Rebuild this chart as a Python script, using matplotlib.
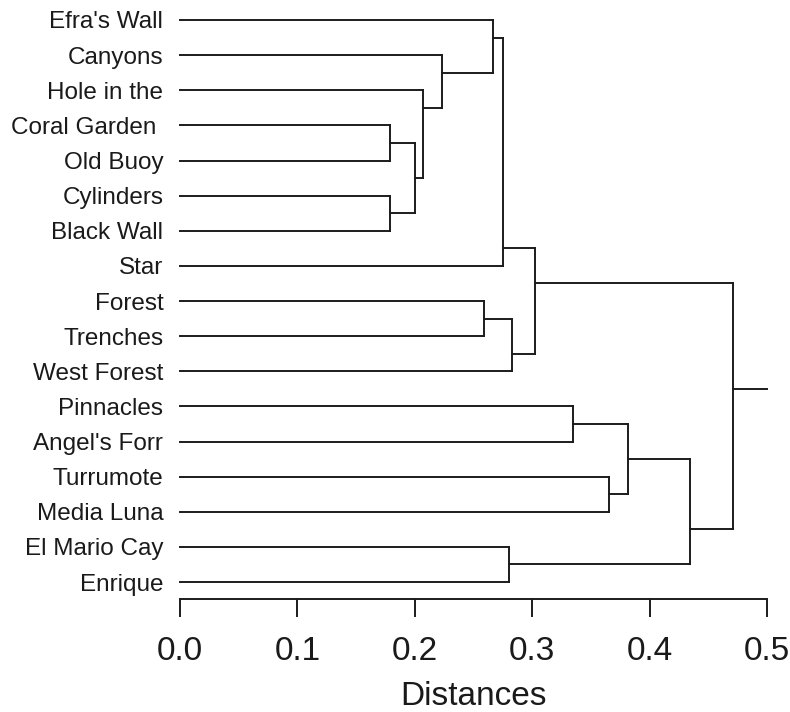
import matplotlib
matplotlib.use("Agg")
import matplotlib.pyplot as plt

plt.rcParams['font.family'] = ['Liberation Sans', 'DejaVu Sans']

# leaf order, top to bottom
sites = [
    "Efra's Wall", "Canyons", "Hole in the", "Coral Garden ", "Old Buoy",
    "Cylinders", "Black Wall", "Star", "Forest", "Trenches", "West Forest",
    "Pinnacles", "Angel's Forr", "Turrumote", "Media Luna", "El Mario Cay",
    "Enrique",
]

# merges: (first child, second child, distance); leaves are 0..16,
# each merge makes a new node numbered 17, 18, ...
merge_a = [3, 5, 17, 2, 1, 8, 0, 23, 15, 22, 24, 11, 13, 28, 30, 27]
merge_b = [4, 6, 18, 19, 20, 9, 21, 7, 16, 10, 26, 12, 14, 29, 25, 31]
merge_dist = [0.179, 0.179, 0.200, 0.207, 0.223, 0.259, 0.267, 0.275,
              0.280, 0.283, 0.302, 0.335, 0.365, 0.382, 0.434, 0.471]
root_end = 0.5

n = len(sites)
line_col = '#1c1c1c'
lw = 1.4

fig = plt.figure(figsize=(7.9, 7.12), dpi=100)
ax = fig.add_axes([180 / 790, 1 - 599 / 712, (767 - 180) / 790, (599 - 10) / 712])

# node info: y position, height, first leaf, last leaf
node_y = {i: float(i) for i in range(n)}
node_h = {i: 0.0 for i in range(n)}
first_leaf = {i: i for i in range(n)}
last_leaf = {i: i for i in range(n)}
parent_h = {}

for k, (a, b, d) in enumerate(zip(merge_a, merge_b, merge_dist)):
    new = n + k
    parent_h[a] = d
    parent_h[b] = d
    node_h[new] = d
    first_leaf[new] = first_leaf[a]
    last_leaf[new] = last_leaf[b]
    # connector sits on the boundary between the two child blocks
    node_y[new] = (last_leaf[a] + first_leaf[b]) / 2
    ax.plot([d, d], [node_y[a], node_y[b]], color=line_col, lw=lw,
            solid_capstyle='projecting', clip_on=False)

root = n + len(merge_dist) - 1
parent_h[root] = root_end

for node, h in node_h.items():
    ax.plot([h, parent_h[node]], [node_y[node], node_y[node]],
            color=line_col, lw=lw, solid_capstyle='projecting', clip_on=False)

ax.set_xlim(0, 0.5)
ax.set_ylim(n - 1 + 17 / 35.125, -10 / 35.125)

ax.set_yticks(range(n))
ax.set_yticklabels(sites, fontsize=17.5, color='#1a1a1a')
ax.tick_params(axis='y', length=0, pad=12)

ax.set_xticks([0.0, 0.1, 0.2, 0.3, 0.4, 0.5])
ax.set_xticklabels(['0.0', '0.1', '0.2', '0.3', '0.4', '0.5'],
                   fontsize=24, color='#1a1a1a')
ax.tick_params(axis='x', direction='out', length=13, width=1.4,
               color=line_col, pad=14)
ax.set_xlabel('Distances', fontsize=24, color='#1a1a1a', labelpad=10)

for side in ['top', 'right', 'left']:
    ax.spines[side].set_visible(False)
ax.spines['bottom'].set_linewidth(1.4)
ax.spines['bottom'].set_color(line_col)
ax.spines['bottom'].set_bounds(0, 0.5)

fig.savefig('out.png', dpi=100, facecolor='white')
